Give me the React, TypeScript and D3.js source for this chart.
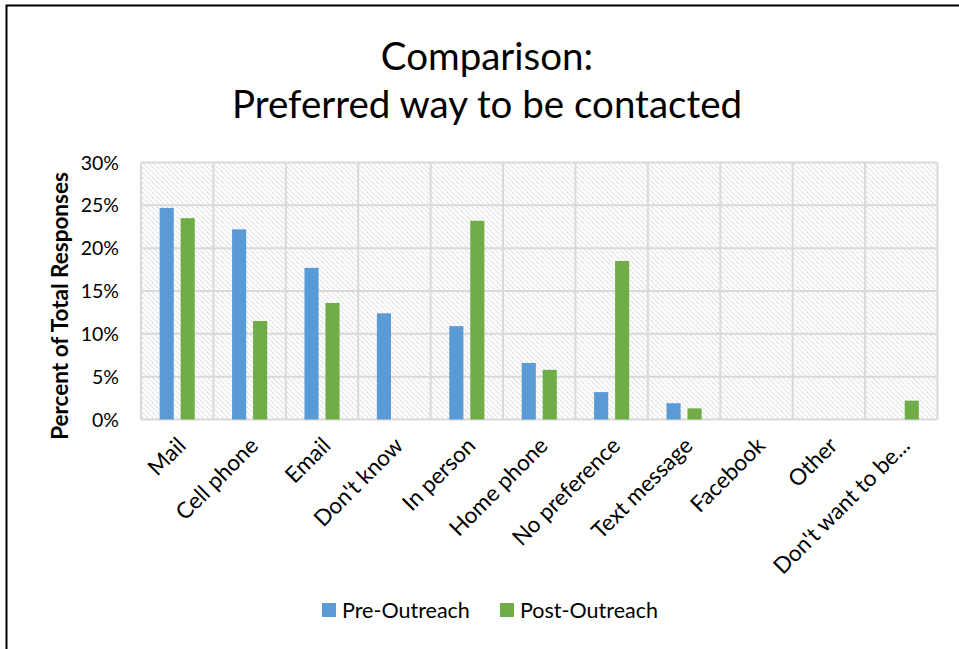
import React from "react";
import * as d3 from "d3";

const categories = ["Mail", "Cell phone", "Email", "Don't know", "In person", "Home phone", "No preference", "Text message", "Facebook", "Other", "Don't want to be..."];
const preOutreach = [24.7, 22.2, 17.7, 12.4, 10.9, 6.6, 3.2, 1.9, 0, 0, 0];
const postOutreach = [23.5, 11.5, 13.6, 0, 23.2, 5.8, 18.5, 1.3, 0, 0, 2.2];
const seriesNames = ["Pre-Outreach", "Post-Outreach"];
const seriesColors = ["#5B9BD5", "#70AD47"];
const yTicks = [0, 5, 10, 15, 20, 25, 30];

const FONT = "Lato, 'Open Sans', sans-serif";

export default function App() {
  const W = 959, H = 649;
  const left = 141, right = 937.5, top = 162.5, bottom = 419.5;
  const x = d3.scaleBand<string>().domain(categories).range([left, right]).paddingInner(0).paddingOuter(0);
  const y = d3.scaleLinear().domain([0, 30]).range([bottom, top]);
  const bw = x.bandwidth();
  const barW = bw * 0.195;
  const gap = bw * 0.095;
  const series = [preOutreach, postOutreach];

  return (
    <svg width={W} height={H} style={{ position: "absolute", left: 0, top: 0, background: "#fff" }}>
      <defs>
        <pattern id="hatch" width="5" height="5" patternUnits="userSpaceOnUse">
          <rect width="5" height="5" fill="#fff" />
          <path d="M-1,-1 L6,6 M-1,4 L1,6 M4,-1 L6,1" stroke="#d2d2d2" strokeWidth="1.1" strokeDasharray="1.4,0.7" />
        </pattern>
      </defs>
      <rect x={0} y={0} width={W} height={H} fill="#fff" />
      <path d={`M6.5,${H + 5} L6.5,5.5 L${W + 5},5.5`} fill="none" stroke="#000" strokeWidth={2} />

      <text x={487} y={70} textAnchor="middle" fontFamily={FONT} fontSize={38.5} fill="#000">Comparison:</text>
      <text x={487} y={118} textAnchor="middle" fontFamily={FONT} fontSize={38.5} fill="#000">Preferred way to be contacted</text>

      <rect x={left} y={top} width={right - left} height={bottom - top} fill="url(#hatch)" />
      {yTicks.map((t) => (
        <line key={"g" + t} x1={left} x2={right} y1={y(t)} y2={y(t)} stroke="#d9d9d9" strokeWidth={2} />
      ))}
      {categories.map((c, i) => (
        <line key={"v" + i} x1={x(c)!} x2={x(c)!} y1={top} y2={bottom} stroke="#d9d9d9" strokeWidth={2} />
      ))}
      <line x1={right} x2={right} y1={top} y2={bottom} stroke="#d9d9d9" strokeWidth={2} />

      {categories.map((c, i) => {
        const cx = x(c)! + bw / 2;
        return series.map((s, k) => {
          const v = s[i];
          if (v <= 0) return null;
          const bx = k === 0 ? cx - gap / 2 - barW : cx + gap / 2;
          return <rect key={c + k} x={bx} y={y(v)} width={barW} height={y(0) - y(v)} fill={seriesColors[k]} />;
        });
      })}

      {yTicks.map((t) => (
        <text key={"t" + t} x={119} y={y(t) + 7} textAnchor="end" fontFamily={FONT} fontSize={19.5} fill="#000">{t}%</text>
      ))}
      <text transform={`translate(68,${(top + bottom) / 2 + 15}) rotate(-90)`} textAnchor="middle" fontFamily={FONT} fontSize={22.5} fontWeight="bold" fill="#000">Percent of Total Responses</text>

      {categories.map((c) => {
        const cx = x(c)! + bw / 2 + 10;
        return (
          <text key={"c" + c} transform={`translate(${cx},${447}) rotate(-45)`} textAnchor="end" fontFamily={FONT} fontSize={22.5} fill="#000">{c}</text>
        );
      })}

      {seriesNames.map((n, k) => {
        const lx = k === 0 ? 322 : 500;
        return (
          <g key={n}>
            <rect x={lx} y={603} width={14} height={14} fill={seriesColors[k]} />
            <text x={lx + 20} y={618} fontFamily={FONT} fontSize={21.5} fill="#000">{n}</text>
          </g>
        );
      })}
    </svg>
  );
}
